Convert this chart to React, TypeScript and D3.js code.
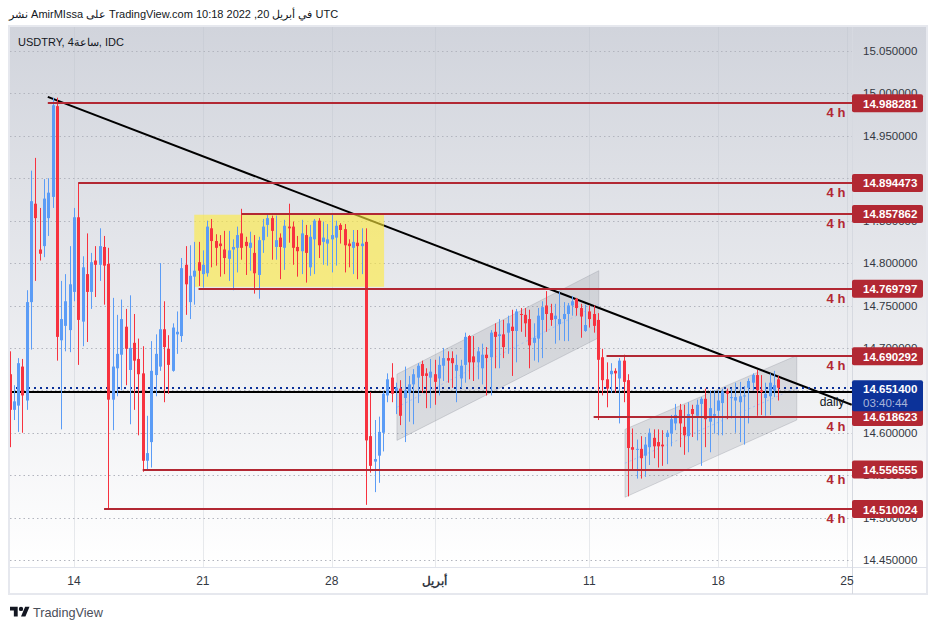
import * as React from "react";
import * as d3 from "d3";

const opens = [
  14.669,14.627,14.632,14.678,14.638,14.754,14.870,14.816,14.820,14.853,
  14.878,14.985,14.709,14.726,14.721,14.766,14.854,14.731,14.787,14.766,
  14.803,14.798,14.819,14.799,14.639,14.676,14.692,14.725,14.674,14.706,
  14.687,14.670,14.567,14.589,14.668,14.678,14.722,14.699,14.673,14.716,
  14.714,14.798,14.754,14.784,14.801,14.787,14.788,14.841,14.826,14.823,
  14.816,14.805,14.816,14.818,14.835,14.825,14.818,14.812,14.786,14.827,
  14.845,14.853,14.819,14.830,14.818,14.843,14.843,14.819,14.814,14.833,
  14.795,14.828,14.850,14.825,14.823,14.828,14.830,14.845,14.840,14.823,
  14.818,14.824,14.820,14.825,14.596,14.566,14.573,14.600,14.644,14.665,
  14.649,14.652,14.641,14.647,14.657,14.665,14.681,14.670,14.665,14.669,
  14.664,14.679,14.688,14.688,14.673,14.664,14.680,14.714,14.690,14.683,
  14.676,14.692,14.689,14.719,14.714,14.716,14.718,14.725,14.720,14.740,
  14.739,14.734,14.706,14.711,14.733,14.750,14.741,14.734,14.728,14.734,
  14.740,14.750,14.758,14.747,14.720,14.743,14.740,14.733,14.689,14.663,
  14.669,14.673,14.664,14.685,14.662,14.583,14.580,14.581,14.573,14.583,
  14.594,14.589,14.586,14.595,14.599,14.611,14.627,14.607,14.596,14.628,
  14.620,14.634,14.640,14.613,14.620,14.626,14.635,14.649,14.641,14.638,
  14.636,14.643,14.653,14.659,14.668,14.650,14.641,14.643,14.650,14.663,
];
const highs = [
  14.696,14.656,14.688,14.687,14.768,14.909,14.924,14.865,14.899,14.900,
  14.995,14.995,14.779,14.787,14.820,14.865,14.895,14.808,14.835,14.812,
  14.820,14.841,14.832,14.818,14.759,14.739,14.757,14.746,14.762,14.740,
  14.711,14.702,14.620,14.708,14.716,14.800,14.755,14.715,14.729,14.743,
  14.806,14.820,14.821,14.825,14.825,14.815,14.850,14.852,14.834,14.833,
  14.838,14.838,14.828,14.843,14.864,14.831,14.837,14.833,14.831,14.852,
  14.859,14.856,14.856,14.835,14.851,14.870,14.849,14.832,14.851,14.845,
  14.845,14.852,14.853,14.849,14.846,14.858,14.850,14.847,14.846,14.828,
  14.839,14.839,14.841,14.841,14.648,14.615,14.619,14.649,14.670,14.682,
  14.659,14.662,14.678,14.667,14.675,14.682,14.685,14.676,14.687,14.686,
  14.690,14.700,14.696,14.696,14.692,14.686,14.718,14.715,14.714,14.701,
  14.705,14.701,14.721,14.729,14.734,14.733,14.738,14.745,14.746,14.747,
  14.747,14.745,14.729,14.747,14.755,14.767,14.752,14.752,14.766,14.754,
  14.753,14.761,14.759,14.752,14.751,14.750,14.750,14.741,14.699,14.683,
  14.682,14.676,14.688,14.692,14.669,14.605,14.592,14.596,14.595,14.605,
  14.604,14.604,14.603,14.603,14.621,14.634,14.634,14.633,14.636,14.633,
  14.639,14.642,14.652,14.650,14.650,14.650,14.652,14.652,14.652,14.659,
  14.660,14.655,14.664,14.670,14.674,14.668,14.659,14.670,14.673,14.667,
];
const lows = [
  14.583,14.615,14.601,14.600,14.627,14.698,14.779,14.803,14.807,14.832,
  14.865,14.685,14.604,14.696,14.695,14.755,14.680,14.702,14.707,14.746,
  14.760,14.779,14.751,14.511,14.603,14.643,14.650,14.656,14.610,14.627,
  14.597,14.554,14.557,14.559,14.643,14.673,14.636,14.646,14.672,14.693,
  14.707,14.739,14.734,14.751,14.773,14.771,14.784,14.795,14.797,14.784,
  14.787,14.779,14.768,14.789,14.804,14.786,14.791,14.764,14.758,14.812,
  14.831,14.804,14.804,14.781,14.792,14.824,14.798,14.784,14.787,14.777,
  14.785,14.787,14.806,14.798,14.797,14.789,14.797,14.823,14.789,14.795,
  14.787,14.781,14.787,14.515,14.553,14.530,14.541,14.578,14.636,14.636,
  14.622,14.609,14.589,14.613,14.610,14.635,14.647,14.629,14.629,14.633,
  14.644,14.661,14.659,14.653,14.636,14.653,14.659,14.663,14.661,14.663,
  14.657,14.644,14.644,14.676,14.676,14.688,14.693,14.667,14.683,14.719,
  14.713,14.676,14.685,14.683,14.688,14.719,14.726,14.705,14.709,14.708,
  14.708,14.738,14.738,14.712,14.719,14.724,14.718,14.615,14.644,14.630,
  14.647,14.647,14.611,14.636,14.525,14.556,14.546,14.546,14.548,14.562,
  14.570,14.559,14.561,14.563,14.584,14.603,14.583,14.574,14.577,14.595,
  14.591,14.561,14.583,14.577,14.599,14.597,14.597,14.616,14.617,14.600,
  14.589,14.586,14.611,14.650,14.620,14.621,14.620,14.621,14.642,14.638,
];
const closes = [
  14.627,14.637,14.682,14.644,14.754,14.873,14.853,14.811,14.876,14.883,
  14.986,14.713,14.734,14.755,14.775,14.854,14.733,14.795,14.766,14.801,
  14.798,14.820,14.797,14.639,14.678,14.693,14.734,14.699,14.700,14.685,
  14.669,14.567,14.576,14.673,14.693,14.722,14.701,14.680,14.724,14.719,
  14.794,14.775,14.785,14.791,14.791,14.798,14.843,14.826,14.818,14.820,
  14.806,14.815,14.819,14.833,14.818,14.820,14.824,14.788,14.827,14.843,
  14.853,14.838,14.827,14.819,14.844,14.841,14.818,14.814,14.835,14.812,
  14.831,14.850,14.821,14.830,14.828,14.833,14.844,14.839,14.821,14.820,
  14.825,14.820,14.823,14.591,14.561,14.569,14.601,14.646,14.663,14.646,
  14.653,14.620,14.650,14.657,14.669,14.679,14.667,14.667,14.672,14.660,
  14.680,14.688,14.685,14.682,14.680,14.679,14.713,14.683,14.683,14.696,
  14.692,14.688,14.718,14.713,14.716,14.701,14.729,14.720,14.743,14.739,
  14.729,14.703,14.712,14.738,14.748,14.740,14.733,14.738,14.734,14.740,
  14.750,14.755,14.747,14.737,14.727,14.734,14.726,14.686,14.662,14.652,
  14.673,14.670,14.685,14.660,14.582,14.580,14.581,14.570,14.586,14.600,
  14.584,14.584,14.584,14.600,14.616,14.621,14.611,14.597,14.622,14.622,
  14.633,14.640,14.616,14.629,14.622,14.638,14.649,14.646,14.642,14.642,
  14.643,14.644,14.661,14.668,14.650,14.648,14.646,14.659,14.656,14.653,
];

const priceTicks = [15.05, 15.0, 14.95, 14.9, 14.85, 14.8, 14.75, 14.7, 14.65, 14.6, 14.55, 14.5, 14.45];
const dateTickBars = [15, 45, 75, 99, 135, 165, 195];
const dateTickLabels = ["14", "21", "28", "أبريل", "11", "18", "25"];

const levelPrices = [14.988281, 14.894473, 14.857862, 14.769797, 14.690292, 14.618623, 14.556555, 14.510024];
const levelStartBars = [8.9, 16, 54, 44, 139, 136, 31, 22];

const lastPrice = 14.6514;
const dailyLevel = 14.648;

// bar, price pairs
const trendBars = [8.9, 196.1];
const trendPrices = [14.996, 14.633];
const boxBars = [43, 87.2];
const boxPrices = [14.857, 14.772];
const channel1Bars = [90.2, 137.2];
const channel1Top = [14.669, 14.791];
const channel1Bottom = [14.591, 14.712];
const channel2Bars = [143.3, 183.3];
const channel2Top = [14.604, 14.691];
const channel2Bottom = [14.524, 14.615];

const W = 938;
const H = 630;
const left = 10;
const top = 27;
const plotRight = 852;
const plotBottom = 567;
const panelRight = 927;
const panelBottom = 594;

const UP = "#5b9cf6";
const DOWN = "#f7323f";
const LEVEL = "#b22833";
const NAVY = "#0c3299";
const INK = "#131722";
const FONT = "'Liberation Sans', Arial, sans-serif";

const x = d3.scaleLinear().domain([15, 195]).range([74, 847]);
const y = d3.scaleLinear().domain([14.45, 15.05]).range([560, 51]);
const fmt = d3.format(".6f");

const channelPath = (bars: number[], hi: number[], lo: number[]) =>
  d3.line()([
    [x(bars[0]), y(hi[0])],
    [x(bars[1]), y(hi[1])],
    [x(bars[1]), y(lo[1])],
    [x(bars[0]), y(lo[0])],
  ]) + "Z";

const Channel = ({ bars, hi, lo }: { bars: number[]; hi: number[]; lo: number[] }) => (
  <g>
    <path d={channelPath(bars, hi, lo)} fill="rgba(120,123,134,0.2)" stroke="rgba(120,123,134,0.25)" />
    <line
      x1={x(bars[0])}
      x2={x(bars[1])}
      y1={y((hi[0] + lo[0]) / 2)}
      y2={y((hi[1] + lo[1]) / 2)}
      stroke="#a9c0f2"
      strokeWidth={1}
      strokeDasharray="2 3"
    />
  </g>
);

const App = () => (
  <svg width={W} height={H} style={{ position: "absolute", left: 0, top: 0, background: "#fff" }}>
    <defs>
      <linearGradient id="bg" x1="0" y1="0" x2="0" y2="1">
        <stop offset="0" stopColor="#d1d4dc" />
        <stop offset="1" stopColor="#ffffff" />
      </linearGradient>
      <clipPath id="plot">
        <rect x={left} y={top} width={plotRight - left} height={plotBottom - top} />
      </clipPath>
    </defs>

    <text x={9} y={18} fontFamily={FONT} fontSize={11} fill={INK} direction="ltr">
      نشر AmirMIssa على TradingView.com 10:18 2022 ,20 في أبريل UTC
    </text>

    <rect x={left} y={top} width={panelRight - left} height={plotBottom - top} fill="url(#bg)" />
    <rect x={left - 1} y={top - 1} width={panelRight - left + 1} height={panelBottom - top + 1} fill="none" stroke="#e6e8ee" strokeWidth={2} />
    <line x1={left} x2={panelRight} y1={plotBottom + 0.5} y2={plotBottom + 0.5} stroke="#e0e3eb" />
    <line x1={plotRight + 0.5} x2={plotRight + 0.5} y1={top} y2={panelBottom} stroke="#d6d9e0" />

    <g clipPath="url(#plot)">
      {dateTickBars.map(b => (
        <line key={b} x1={Math.round(x(b)) + 0.5} x2={Math.round(x(b)) + 0.5} y1={top} y2={plotBottom} stroke="rgba(190,194,204,0.35)" />
      ))}
      {priceTicks.map(p => (
        <line key={p} x1={left} x2={plotRight} y1={Math.round(y(p)) + 0.5} y2={Math.round(y(p)) + 0.5} stroke="#b2b5be" strokeDasharray="1.5 3" />
      ))}

      <Channel bars={channel1Bars} hi={channel1Top} lo={channel1Bottom} />
      <Channel bars={channel2Bars} hi={channel2Top} lo={channel2Bottom} />

      <line x1={x(trendBars[0])} x2={x(trendBars[1])} y1={y(trendPrices[0])} y2={y(trendPrices[1])} stroke="#000" strokeWidth={2} />
      <rect
        x={x(boxBars[0])}
        y={y(boxPrices[0])}
        width={x(boxBars[1]) - x(boxBars[0])}
        height={y(boxPrices[1]) - y(boxPrices[0])}
        fill="rgba(255,235,59,0.6)"
      />

      <line x1={left} x2={plotRight} y1={Math.round(y(dailyLevel))} y2={Math.round(y(dailyLevel))} stroke="#000" strokeWidth={2} />
      <line x1={left} x2={plotRight} y1={Math.round(y(lastPrice)) - 1} y2={Math.round(y(lastPrice)) - 1} stroke={NAVY} strokeWidth={2} strokeDasharray="2 4" />

      {opens.map((o, i) => {
        const c = closes[i];
        const cx = Math.round(x(i));
        const bodyTop = y(Math.max(o, c));
        const bodyH = Math.max(1, y(Math.min(o, c)) - bodyTop);
        const color = c >= o ? UP : DOWN;
        return (
          <g key={i} fill={color}>
            <rect x={cx} width={1} y={y(highs[i])} height={y(lows[i]) - y(highs[i])} />
            <rect x={cx - 1} width={3} y={bodyTop} height={bodyH} />
          </g>
        );
      })}

      {levelPrices.map((p, i) => (
        <g key={p}>
          <line x1={x(levelStartBars[i])} x2={plotRight} y1={Math.round(y(p))} y2={Math.round(y(p))} stroke={LEVEL} strokeWidth={2} />
          <text x={836} y={y(p) + 14} textAnchor="middle" fontFamily={FONT} fontSize={13} fontWeight="bold" fill={LEVEL}>
            4 h
          </text>
        </g>
      ))}

      <text x={832} y={y(dailyLevel) + 14} textAnchor="middle" fontFamily={FONT} fontSize={12} fill={INK}>
        daily
      </text>
    </g>

    {priceTicks.map(p => (
      <text key={p} x={863} y={y(p) + 4} fontFamily={FONT} fontSize={11.5} fill="#333842">
        {fmt(p)}
      </text>
    ))}
    {dateTickBars.map((b, i) => (
      <text key={b} x={x(b)} y={585} textAnchor="middle" fontFamily={FONT} fontSize={12} fontWeight={i === 3 ? "bold" : "normal"} fill="#333842">
        {dateTickLabels[i]}
      </text>
    ))}

    {levelPrices.map(p => (
      <g key={p}>
        <rect x={plotRight} y={y(p) - 9} width={71} height={18} rx={2} fill={LEVEL} />
        <text x={863} y={y(p) + 4.5} fontFamily={FONT} fontSize={11.5} fontWeight="bold" fill="#fff">
          {fmt(p)}
        </text>
      </g>
    ))}
    <rect x={plotRight} y={y(lastPrice) - 9} width={71} height={31} rx={2} fill={NAVY} />
    <text x={863} y={y(lastPrice) + 4} fontFamily={FONT} fontSize={11.5} fontWeight="bold" fill="#fff">
      {fmt(lastPrice)}
    </text>
    <text x={863} y={y(lastPrice) + 18} fontFamily={FONT} fontSize={11.5} fill="rgba(255,255,255,0.65)">
      03:40:44
    </text>

    <text x={18} y={46} fontFamily={FONT} fontSize={11} fill={INK}>
      USDTRY, 4ساعة, IDC
    </text>

    <g transform="translate(10 604.5) scale(0.55)" fill="#131722">
      <path d="M14 22H7V11H0V4h14v18zM28 22h-8l7.5-18h8L28 22z" />
      <circle cx={20} cy={8} r={4} />
    </g>
    <text x={33} y={617} fontFamily={FONT} fontSize={12.7} fill="#4a4e59">
      TradingView
    </text>
  </svg>
);

export default App;
